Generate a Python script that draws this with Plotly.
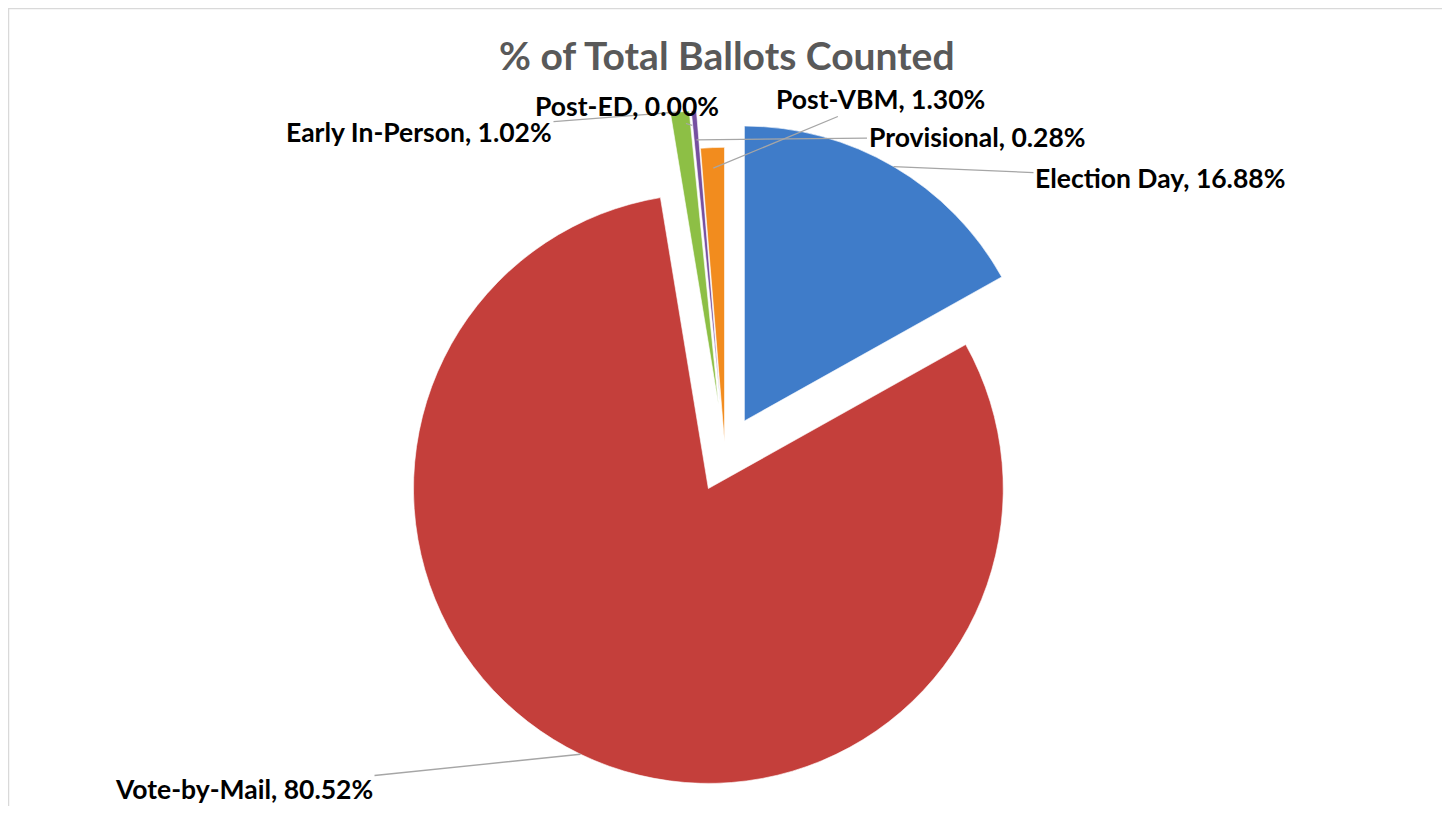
import math
import plotly.graph_objects as go

# ---- data ----
categories = ["Election Day", "Vote-by-Mail", "Early In-Person", "Post-ED", "Provisional", "Post-VBM"]
percent_values = [16.88, 80.52, 1.02, 0.00, 0.28, 1.30]
slice_colors = ["#3f7cc9", "#c43f3b", "#8dbf45", "#4bacc6", "#7650a0", "#f28c1e"]
pulls = [0.13, 0.13, 0.17, 0.17, 0.17, 0.04]
title_text = "% of Total Ballots Counted"

# label placement (text centre, window pixels) and how far along the radius the leader line ends
label_centers = {
    "Election Day": (1160, 178),
    "Vote-by-Mail": (244, 789),
    "Early In-Person": (419, 132),
    "Post-ED": (627, 106),
    "Provisional": (977, 137),
    "Post-VBM": (880, 99),
}
tip_factor = {"Election Day": 1.0, "Vote-by-Mail": 1.0, "Early In-Person": 1.0,
              "Post-ED": 0.95, "Provisional": 0.9, "Post-VBM": 0.93}

OFF = 8            # page body margin
W, H = 1450 - 2 * OFF, 814 - 2 * OFF
# pie box in window pixels: centre (725, 454), height 690
PIE_CX, PIE_CY, PIE_BOX = 725, 454, 690
dom_y = [1 - (PIE_CY + PIE_BOX / 2 - OFF) / H, 1 - (PIE_CY - PIE_BOX / 2 - OFF) / H]
dom_x = [(PIE_CX - OFF) / W - 0.45, (PIE_CX - OFF) / W + 0.45]

fig = go.Figure(go.Pie(
    labels=categories,
    values=percent_values,
    sort=False,
    direction="clockwise",
    rotation=0,
    pull=pulls,
    marker=dict(colors=slice_colors, line=dict(color="rgba(255,255,255,0.6)", width=1)),
    textinfo="none",
    hoverinfo="label+percent",
    domain=dict(x=dom_x, y=dom_y),
    showlegend=False,
))

# pie geometry as plotly.js computes it (figure pixels)
box_w = W * (dom_x[1] - dom_x[0])
box_h = H * (dom_y[1] - dom_y[0])
r = min(box_w, box_h) / (2 + 2 * max(pulls))
cx = W * (dom_x[0] + dom_x[1]) / 2
cy = H * (1 - dom_y[0]) - box_h / 2

total = sum(percent_values)
annotations = []
cum = 0.0
for name, val, p in zip(categories, percent_values, pulls):
    mid = (cum + val / 2) / total
    cum += val
    th = 2 * math.pi * mid
    dx, dy = math.sin(th), -math.cos(th)
    ox, oy = cx + p * r * dx, cy + p * r * dy
    f = tip_factor[name]
    tx, ty = ox + f * r * dx, oy + f * r * dy
    lx, ly = label_centers[name]
    lx, ly = lx - OFF, ly - OFF
    annotations.append(dict(
        x=tx / W, y=1 - ty / H, xref="paper", yref="paper",
        ax=lx - tx, ay=ly - ty, axref="pixel", ayref="pixel",
        text=f"<b>{name}, {val:.2f}%</b>",
        showarrow=True, arrowhead=0, arrowwidth=1.3, arrowcolor="#a6a6a6",
        standoff=0, startstandoff=0,
        font=dict(family="Lato, 'Open Sans', sans-serif", size=26.5, color="#000000"),
    ))

annotations.append(dict(
    x=(727 - OFF) / W, y=1 - (55 - OFF) / H, xref="paper", yref="paper", showarrow=False,
    xanchor="center", yanchor="middle",
    text=f"<b>{title_text}</b>",
    font=dict(family="Lato, 'Open Sans', sans-serif", size=39, color="#595959"),
))

fig.update_layout(
    width=W, height=H,
    margin=dict(l=0, r=0, t=0, b=0),
    paper_bgcolor="white",
    plot_bgcolor="white",
    annotations=annotations,
    shapes=[dict(type="rect", xref="paper", yref="paper",
                 x0=0.5 / W, x1=(1443 - OFF) / W, y0=-0.05, y1=1 - 0.5 / H,
                 line=dict(color="#d9d9d9", width=1.5), fillcolor="rgba(0,0,0,0)")],
)

fig.write_html("out.html")
